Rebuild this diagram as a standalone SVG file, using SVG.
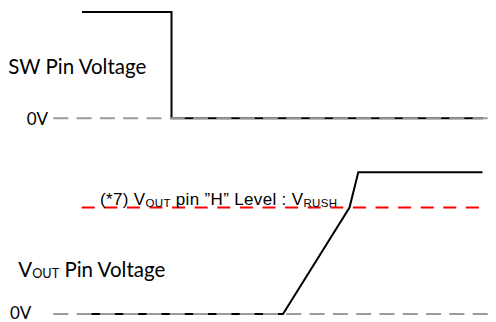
<svg xmlns="http://www.w3.org/2000/svg" width="496" height="322" viewBox="0 0 496 322">
<style>
.wave{fill:none;stroke:#000;stroke-width:2;stroke-linejoin:miter}
.zero{fill:none;stroke:#9b9b9b;stroke-width:2;stroke-dasharray:15 8.3}
.rush{fill:none;stroke:#ff0000;stroke-width:2;stroke-dasharray:13 9.6}
.lbl{font-family:Lato,"Open Sans","Liberation Sans",sans-serif;fill:#000}
.note{font-family:"Liberation Sans",Arial,sans-serif;fill:#000;font-size:17px}
</style>
<rect width="496" height="322" fill="#fff"/>
<g id="sw-waveform">
<polyline class="wave" points="82,12 171.5,12 171.5,118.3 483,118.3"/>
</g>
<g id="sw-zero">
<line class="zero" x1="53.3" y1="118.3" x2="496" y2="118.3"/>
<text class="lbl" x="26.7" y="124.5" font-size="17">0V</text>
</g>
<g id="sw-label">
<text class="lbl" x="8.3" y="73.5" font-size="21" textLength="138" lengthAdjust="spacingAndGlyphs">SW Pin Voltage</text>
</g>
<g id="vout-waveform">
<polyline class="wave" points="80,314 283,314 349.5,207.5 358.3,172.3 482.5,172.3"/>
</g>
<g id="vout-zero">
<line class="zero" x1="53.3" y1="314" x2="496" y2="314"/>
<text class="lbl" x="10" y="318.5" font-size="17">0V</text>
</g>
<g id="vrush-level">
<line class="rush" x1="81.7" y1="207.5" x2="481" y2="207.5"/>
<text class="note" x="100" y="204.5" textLength="237" lengthAdjust="spacing">(*7) V<tspan font-size="11.5" dy="2.5">OUT</tspan><tspan dy="-2.5"> pin ”H” Level : V</tspan><tspan font-size="11.5" dy="2.5">RUSH</tspan></text>
</g>
<g id="vout-label">
<text class="lbl" x="18.3" y="276.5" font-size="21" textLength="147" lengthAdjust="spacingAndGlyphs">V<tspan font-size="13" dy="1">OUT</tspan><tspan dy="-1"> Pin Voltage</tspan></text>
</g>
</svg>
